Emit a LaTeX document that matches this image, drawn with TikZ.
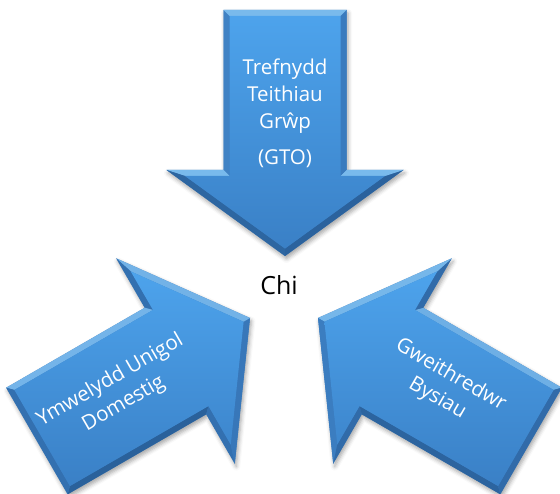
\documentclass[tikz,border=0pt]{standalone}
\usepackage{fontspec}
\setmainfont{Open Sans}
\usetikzlibrary{shadows.blur}
\definecolor{bvlight}{HTML}{8ACAF8}
\definecolor{bvside}{HTML}{3B7DC1}
\definecolor{bvdark}{HTML}{24568C}
\definecolor{bodytop}{HTML}{4DA3EC}
\definecolor{bodybot}{HTML}{3A80C6}
\tikzset{
  arrowtext/.style={text=white, align=center, font=\fontsize{20.5}{27}\selectfont},
  centertext/.style={text=black, font=\fontsize{25}{30}\selectfont},
}
\newcommand\bevelarrow[3]{%
  \begin{scope}[shift={(#2+1.5,#3-3)}, rotate=#1]
    \path[blur shadow={shadow xshift=0pt, shadow yshift=0pt, shadow opacity=35, shadow blur radius=4pt}]
      (-246,-61.5) -- (-86,-61.5) -- (-86,-118.5) -- (0,0) -- (-86,118.5) -- (-86,61.5) -- (-246,61.5) -- cycle;
  \end{scope}
  \begin{scope}[shift={(#2,#3)}, rotate=#1]
    \fill[bvside] (-246,-61.5) -- (-86,-61.5) -- (-86,-118.5) -- (0,0) -- (-86,118.5) -- (-86,61.5) -- (-246,61.5) -- cycle;
    \foreach \ax/\ay/\bx/\by/\cx/\cy/\dx/\dy/\n in {
      -246/-61.5/-86/-61.5/-80/-55.5/-240/-55.5/-90,
      -86/-61.5/-86/-118.5/-80/-100/-80/-55.5/180,
      -86/-118.5/0/0/-7.42/0/-80/-100/-36,
      0/0/-86/118.5/-80/100/-7.42/0/36,
      -86/118.5/-86/61.5/-80/55.5/-80/100/180,
      -86/61.5/-246/61.5/-240/55.5/-80/55.5/90,
      -246/61.5/-246/-61.5/-240/-55.5/-240/55.5/180}{
      \pgfmathsetmacro\c{cos(\n+#1-95)}
      \pgfmathtruncatemacro\p{80*abs(\c)}
      \ifdim\c pt>0pt \colorlet{facetc}{bvlight!\p!bvside}\else\colorlet{facetc}{bvdark!\p!bvside}\fi
      \fill[fill=facetc] (\ax,\ay) -- (\bx,\by) -- (\cx,\cy) -- (\dx,\dy) -- cycle;
    }
    \shade[top color=bodytop, bottom color=bodybot]
      (-240,-55.5) -- (-80,-55.5) -- (-80,-100) -- (-7.42,0) -- (-80,100) -- (-80,55.5) -- (-240,55.5) -- cycle;
  \end{scope}}
\begin{document}
\begin{tikzpicture}[x=1pt,y=1pt]
  \useasboundingbox (0,0) rectangle (560,494);
  \bevelarrow{-90}{285}{238}
  \bevelarrow{30}{250}{176}
  \bevelarrow{150}{318}{176}
  \node[arrowtext] (gto) at (285,381) {Trefnydd\\Teithiau\\Grŵp\\[9pt](GTO)};
  \node[arrowtext, rotate=30] (ymw) at (117,102) {Ymwelydd Unigol\\Domestig};
  \node[arrowtext, rotate=-30] (bws) at (444,107) {Gweithredwr\\Bysiau};
  \node[centertext] (chi) at (279,209) {Chi};
\end{tikzpicture}
\end{document}
